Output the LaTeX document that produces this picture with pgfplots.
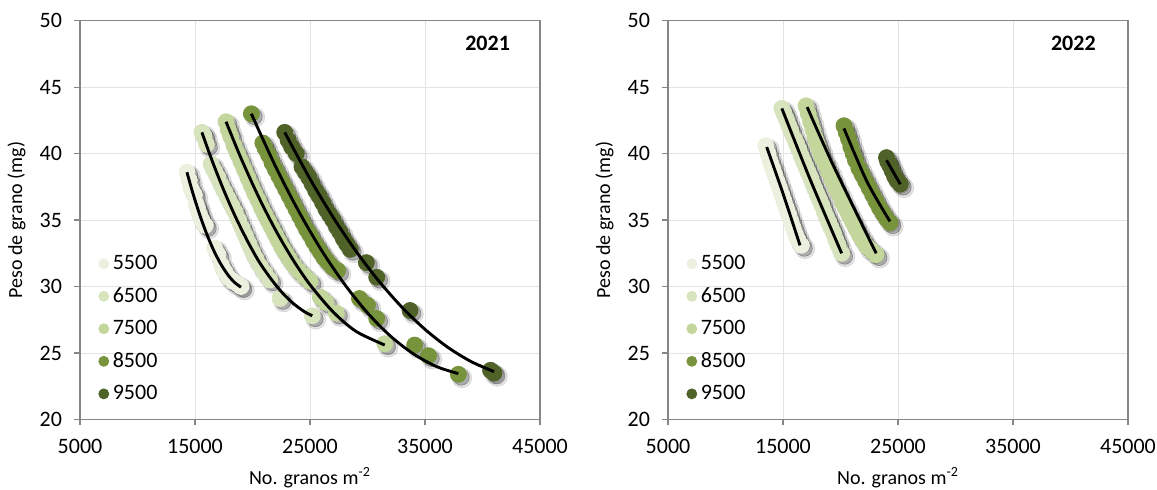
\documentclass[border=0pt]{standalone}
\usepackage{pgfplots}
\pgfplotsset{compat=1.18}
\usepackage{pgfplotstable}
\usepackage{fontspec}
\setmainfont{Carlito}
\definecolor{cA}{HTML}{EBF1DE}
\definecolor{cB}{HTML}{D7E4BD}
\definecolor{cC}{HTML}{C3D69B}
\definecolor{cD}{HTML}{77933C}
\definecolor{cE}{HTML}{4F6228}
\definecolor{axgray}{HTML}{868686}
\definecolor{grgray}{HTML}{E3E3E3}

\pgfplotstableread{
x y
14300 38.6
14500 38.0
14700 37.3
14950 36.9
15100 36.2
15250 35.8
15400 35.4
15600 35.0
15900 34.6
16700 32.9
17000 32.4
17300 31.6
17600 31.1
17900 30.7
18300 30.4
18700 30.2
19000 30.0
}\tAa
\pgfplotstableread{
x y
15600 41.6
15800 41.3
16000 40.7
16400 39.2
16700 38.7
17000 38.2
17300 37.6
17600 37.1
17900 36.6
18200 36.1
18500 35.6
18800 35.0
19100 34.4
19400 33.8
19700 33.2
20000 32.6
20300 32.1
20700 31.5
21100 31.0
21500 30.5
22400 29.1
25200 27.8
}\tBa
\pgfplotstableread{
x y
17700 42.4
17900 41.8
18100 41.3
18400 40.6
18700 40.0
19000 39.4
19300 38.8
19600 38.2
19900 37.6
20200 37.0
20500 36.5
20800 35.9
21100 35.4
21400 34.9
21700 34.4
22000 33.9
22300 33.4
22600 32.9
22900 32.5
23200 32.1
23600 31.6
24000 31.2
24500 30.8
25000 30.4
25900 29.2
26400 28.8
27300 28.0
31500 25.7
}\tCa
\pgfplotstableread{
x y
19900 43.0
20900 40.8
21100 40.4
21400 39.9
21700 39.3
22000 38.8
22300 38.3
22600 37.8
22900 37.3
23200 36.8
23500 36.3
23800 35.8
24100 35.3
24400 34.8
24700 34.3
25000 33.9
25300 33.4
25600 33.0
25900 32.6
26200 32.2
26500 31.9
26900 31.5
27400 31.2
29300 29.1
30000 28.6
30800 27.6
34100 25.6
35300 24.8
37900 23.4
}\tDa
\pgfplotstableread{
x y
22800 41.6
23100 41.0
23400 40.5
23800 40.0
24300 39.0
24600 38.6
24900 38.2
25200 37.7
25500 37.2
25800 36.8
26100 36.3
26400 35.8
26700 35.4
27000 35.0
27300 34.5
27600 34.1
27900 33.6
28200 33.2
28500 32.8
29900 31.8
30800 30.7
33700 28.2
40700 23.7
41000 23.5
}\tEa

\pgfplotstableread{
x y
13500 40.6
13700 40.0
13900 39.4
14100 38.9
14300 38.4
14500 37.9
14700 37.4
14900 36.9
15100 36.4
15300 35.9
15500 35.4
15700 34.9
15900 34.4
16100 33.9
16300 33.5
16600 33.1
}\tAb
\pgfplotstableread{
x y
14900 43.4
15100 43.0
15300 42.6
15500 42.1
15700 41.7
16000 41.1
16200 40.7
16400 40.3
16600 39.8
16800 39.4
17000 39.0
17200 38.6
17400 38.2
17600 37.7
17800 37.3
18000 36.9
18200 36.5
18400 36.1
18600 35.6
18800 35.2
19000 34.8
19200 34.4
19400 34.0
19600 33.5
19800 33.1
20100 32.5
}\tBb
\pgfplotstableread{
x y
17000 43.6
17200 43.0
17400 42.4
17600 41.8
17800 41.2
18000 40.7
18200 40.2
18400 39.7
18700 39.2
19000 38.6
19300 38.0
19600 37.4
19900 36.9
20200 36.3
20500 35.8
20800 35.3
21100 34.8
21400 34.3
21700 33.8
22000 33.4
22300 33.0
22700 32.7
23100 32.4
}\tCb
\pgfplotstableread{
x y
20300 42.1
20500 41.6
20700 41.1
20900 40.5
21100 40.0
21300 39.5
21600 38.9
21900 38.4
22200 37.9
22500 37.4
22800 36.9
23100 36.4
23400 35.9
23700 35.5
24000 35.1
24300 34.8
}\tDb
\pgfplotstableread{
x y
24000 39.7
24100 39.4
24300 39.1
24500 38.7
24700 38.3
24900 38.0
25200 37.7
}\tEb

\pgfplotsset{
  myaxis/.style={
    set layers,
    scale only axis, width=230pt, height=199.4pt,
    xmin=5000, xmax=45000, ymin=20, ymax=50,
    xtick={5000,15000,25000,35000,45000},
    xticklabels={5000,15000,25000,35000,45000},
    ytick={20,25,...,50},
    scaled x ticks=false,
    tick pos=left, tick align=outside,
    major tick length=3pt,
    tick style={draw=axgray, line width=0.6pt},
    axis line style={draw=axgray, line width=0.6pt},
    grid=major, major grid style={draw=grgray, line width=0.5pt},
    ticklabel style={font=\fontsize{11}{13}\selectfont, text=black},
    /pgf/number format/assume math mode=true,
    yticklabel style={xshift=-2.5pt},
    xticklabel style={yshift=-3.5pt},
    xlabel={No. granos m\textsuperscript{-2}},
    ylabel={Peso de grano (mg)},
    label style={font=\fontsize{12}{14}\selectfont},
    every axis x label/.style={at={(axis description cs:0.5,-0.162)}, anchor=base},
    every axis y label/.style={at={(axis description cs:-0.138,0.5)}, rotate=90, anchor=center},
    legend style={at={(axis description cs:0.04,0.423)}, anchor=north west, draw=none, fill=none, inner sep=0pt,
      font=\fontsize{11}{13}\selectfont, row sep=3.45pt, cells={anchor=west}},
    legend image code/.code={\draw[#1] plot coordinates {(0.1cm,0cm)};},
    every legend image post/.style={mark size=2.5pt, opacity=1},
    clip=false,
  },
  shadb/.style={only marks, mark=*, mark size=4.9pt, color=black, opacity=0.10,
     mark options={xshift=1.8pt, yshift=-1.8pt}, forget plot},
  shad/.style={only marks, mark=*, mark size=4pt, color=black, opacity=0.25,
     mark options={xshift=1.5pt, yshift=-1.5pt}, forget plot},
  ser/.style={only marks, mark=*, mark size=4pt, color=#1},
  trend/.style={black, line width=1.45pt, smooth, no markers, forget plot, on layer=axis foreground},
}

\begin{document}
\begin{tikzpicture}
\begin{axis}[myaxis]
\addplot[shadb] table {\tAa};
\addplot[shad] table {\tAa};
\addplot[ser=cA] table {\tAa}; \addlegendentry{5500}
\addplot[shadb] table {\tBa};
\addplot[shad] table {\tBa};
\addplot[ser=cB] table {\tBa}; \addlegendentry{6500}
\addplot[shadb] table {\tCa};
\addplot[shad] table {\tCa};
\addplot[ser=cC] table {\tCa}; \addlegendentry{7500}
\addplot[shadb] table {\tDa};
\addplot[shad] table {\tDa};
\addplot[ser=cD] table {\tDa}; \addlegendentry{8500}
\addplot[shadb] table {\tEa};
\addplot[shad] table {\tEa};
\addplot[ser=cE] table {\tEa}; \addlegendentry{9500}
\addplot[trend] coordinates {(14300,38.6) (14800,37.07) (15400,35.43) (16000,34.0) (16600,32.77) (17200,31.76) (17800,30.95) (18400,30.34) (19000,29.95)};
\addplot[trend] coordinates {(15600,41.6) (16500,39.44) (17500,37.25) (18500,35.28) (19500,33.53) (20500,31.97) (21500,30.70) (22500,29.62) (23500,28.76) (24500,28.12) (25200,27.8)};
\addplot[trend] coordinates {(17700,42.4) (19000,39.66) (20500,36.80) (22000,34.26) (23500,32.04) (25000,30.14) (27000,28.1) (29000,26.63) (31500,25.6)};
\addplot[trend] coordinates {(19900,43.0) (22000,39.04) (24000,35.69) (26000,32.73) (28000,30.18) (30000,28.02) (32000,26.27) (34000,24.93) (36000,23.98) (37900,23.45)};
\addplot[trend] coordinates {(22800,41.6) (25000,38.10) (27000,35.23) (29000,32.66) (31000,30.4) (33000,28.44) (35000,26.78) (37000,25.42) (39000,24.36) (41000,23.6)};
\node[anchor=east, font=\fontsize{11}{13}\selectfont\bfseries] at (rel axis cs:0.95,0.942) {2021};
\end{axis}
\begin{axis}[myaxis, at={(294pt,0pt)}]
\addplot[shadb] table {\tAb};
\addplot[shad] table {\tAb};
\addplot[ser=cA] table {\tAb}; \addlegendentry{5500}
\addplot[shadb] table {\tBb};
\addplot[shad] table {\tBb};
\addplot[ser=cB] table {\tBb}; \addlegendentry{6500}
\addplot[shadb] table {\tCb};
\addplot[shad] table {\tCb};
\addplot[ser=cC] table {\tCb}; \addlegendentry{7500}
\addplot[shadb] table {\tDb};
\addplot[shad] table {\tDb};
\addplot[ser=cD] table {\tDb}; \addlegendentry{8500}
\addplot[shadb] table {\tEb};
\addplot[shad] table {\tEb};
\addplot[ser=cE] table {\tEb}; \addlegendentry{9500}
\addplot[trend] coordinates {(13580,40.5) (15000,37.0) (16480,33.1)};
\addplot[trend] coordinates {(14900,43.4) (17340,38.1) (20100,32.5)};
\addplot[trend] coordinates {(17100,43.5) (19380,39.1) (23100,32.5)};
\addplot[trend] coordinates {(20300,41.9) (22300,37.9) (24300,34.9)};
\addplot[trend] coordinates {(24000,39.5) (25200,37.7)};
\node[anchor=east, font=\fontsize{11}{13}\selectfont\bfseries] at (rel axis cs:0.945,0.943) {2022};
\end{axis}
\pgfresetboundingbox
\path[use as bounding box] (-40pt,-35.25pt) rectangle (538.5pt,209.75pt);
\end{tikzpicture}
\end{document}
